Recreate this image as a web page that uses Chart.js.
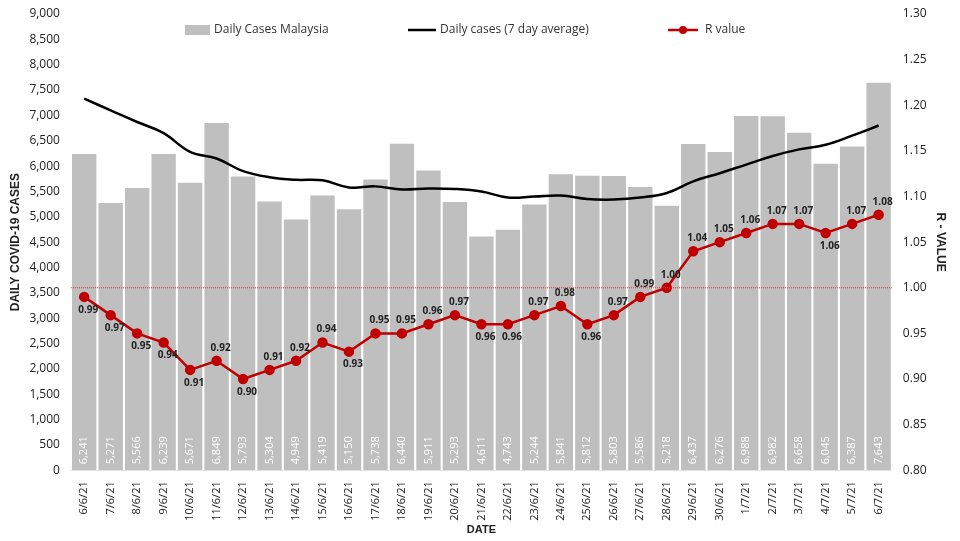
<!DOCTYPE html>
<html><head><meta charset="utf-8">
<script src="https://cdn.jsdelivr.net/npm/chart.js@4"></script>
<style>html,body{margin:0;background:#fff}#wrap{width:960px;height:541px}</style>
</head><body><div id="wrap"><canvas id="c"></canvas></div>
<script>
const dates = ["6/6/21","7/6/21","8/6/21","9/6/21","10/6/21","11/6/21","12/6/21","13/6/21","14/6/21","15/6/21","16/6/21","17/6/21","18/6/21","19/6/21","20/6/21","21/6/21","22/6/21","23/6/21","24/6/21","25/6/21","26/6/21","27/6/21","28/6/21","29/6/21","30/6/21","1/7/21","2/7/21","3/7/21","4/7/21","5/7/21","6/7/21"];
const dailyCases = [6241,5271,5566,6239,5671,6849,5793,5304,4949,5419,5150,5738,6440,5911,5293,4611,4743,5244,5841,5812,5803,5586,5218,6437,6276,6988,6982,6658,6045,6387,7643];
const avg7 = [7330,7100,6870,6650,6280,6150,5900,5780,5730,5720,5580,5600,5540,5560,5550,5500,5380,5400,5420,5350,5340,5380,5470,5700,5860,6030,6200,6330,6420,6600,6800];
const rValue = [0.99,0.97,0.95,0.94,0.91,0.92,0.90,0.91,0.92,0.94,0.93,0.95,0.95,0.96,0.97,0.96,0.96,0.97,0.98,0.96,0.97,0.99,1.00,1.04,1.05,1.06,1.07,1.07,1.06,1.07,1.08];
const rLabelPos = "bbbbbabaaabaaaabbaabaaaaaaaaba a".replace(/ /g,"").split("");

const labelPlugin = {
  id: "labels",
  afterDatasetsDraw(chart) {
    const ctx = chart.ctx;
    const y1 = chart.scales.y1;
    const area = chart.chartArea;
    // reference line at R = 1.00
    const yr = y1.getPixelForValue(1.0);
    ctx.save();
    ctx.strokeStyle = "#e03030"; ctx.lineWidth = 1; ctx.setLineDash([1,1]);
    ctx.beginPath(); ctx.moveTo(area.left, yr); ctx.lineTo(area.right, yr); ctx.stroke();
    ctx.setLineDash([]);
    // bar values
    const bars = chart.getDatasetMeta(0).data;
    ctx.fillStyle = "#fff"; ctx.font = "11px 'Open Sans', sans-serif";
    ctx.textAlign = "left"; ctx.textBaseline = "middle";
    bars.forEach((b, i) => {
      ctx.save(); ctx.translate(b.x, area.bottom - 6); ctx.rotate(-Math.PI/2);
      ctx.fillText(dailyCases[i].toLocaleString("en-US"), 0, 0); ctx.restore();
    });
    // R values
    const pts = chart.getDatasetMeta(2).data;
    ctx.fillStyle = "#222"; ctx.font = "bold 10px 'Open Sans', sans-serif"; ctx.textAlign = "center";
    pts.forEach((p, i) => {
      const dy = rLabelPos[i] === "a" ? -13 : 13;
      ctx.fillText(rValue[i].toFixed(2), p.x + 4, p.y + dy);
    });
    // legend inside plot area
    const ly = area.top + 16;
    ctx.font = "12px 'Open Sans', sans-serif"; ctx.textAlign = "left"; ctx.fillStyle = "#333";
    ctx.fillStyle = "#bfbfbf"; ctx.fillRect(185, ly - 5, 25, 10);
    ctx.fillStyle = "#333"; ctx.fillText(chart.data.datasets[0].label, 214, ly);
    ctx.strokeStyle = "#000"; ctx.lineWidth = 2.5;
    ctx.beginPath(); ctx.moveTo(408, ly); ctx.lineTo(436, ly); ctx.stroke();
    ctx.fillText(chart.data.datasets[1].label, 440, ly);
    ctx.strokeStyle = "#c00000";
    ctx.beginPath(); ctx.moveTo(668, ly); ctx.lineTo(698, ly); ctx.stroke();
    ctx.fillStyle = "#c00000"; ctx.beginPath(); ctx.arc(683, ly, 4, 0, Math.PI*2); ctx.fill();
    ctx.fillStyle = "#333"; ctx.fillText(chart.data.datasets[2].label, 705, ly);
    ctx.restore();
  }
};

new Chart(document.getElementById("c"), {
  data: {
    labels: dates,
    datasets: [
      { type: "bar", label: "Daily Cases Malaysia", data: dailyCases, backgroundColor: "#bfbfbf", yAxisID: "y", order: 3, categoryPercentage: 1, barPercentage: 0.92 },
      { type: "line", label: "Daily cases (7 day average)", data: avg7, borderColor: "#000", borderWidth: 2.5, pointRadius: 0, tension: 0.4, yAxisID: "y", order: 2 },
      { type: "line", label: "R value", data: rValue, borderColor: "#c00000", backgroundColor: "#c00000", borderWidth: 2.5, pointRadius: 4, yAxisID: "y1", order: 1 }
    ]
  },
  options: {
    responsive: true, maintainAspectRatio: false, animation: false,
    layout: { padding: { top: 14, right: 8, left: 4, bottom: 4 } },
    plugins: { legend: { display: false }, tooltip: { enabled: false } },
    scales: {
      x: { grid: { display: false }, ticks: { maxRotation: 90, minRotation: 90, font: { family: "'Open Sans', sans-serif", size: 11 }, color: "#222" },
        title: { display: true, text: "DATE", font: { weight: "bold", size: 11 }, color: "#222", padding: 0 } },
      y: { position: "left", min: 0, max: 9000, ticks: { stepSize: 500, callback: v => v.toLocaleString("en-US"), font: { family: "'Open Sans', sans-serif", size: 12 }, color: "#222" },
        grid: { display: false }, border: { display: false },
        title: { display: true, text: "DAILY COVID-19 CASES", font: { weight: "bold", size: 12 }, color: "#222" } },
      y1: { position: "right", min: 0.8, max: 1.3, ticks: { stepSize: 0.05, callback: v => v.toFixed(2), font: { family: "'Open Sans', sans-serif", size: 12 }, color: "#222" },
        grid: { display: false }, border: { display: false },
        title: { display: true, text: "R - VALUE", font: { weight: "bold", size: 12 }, color: "#222" } }
    }
  },
  plugins: [labelPlugin]
});
</script></body></html>
